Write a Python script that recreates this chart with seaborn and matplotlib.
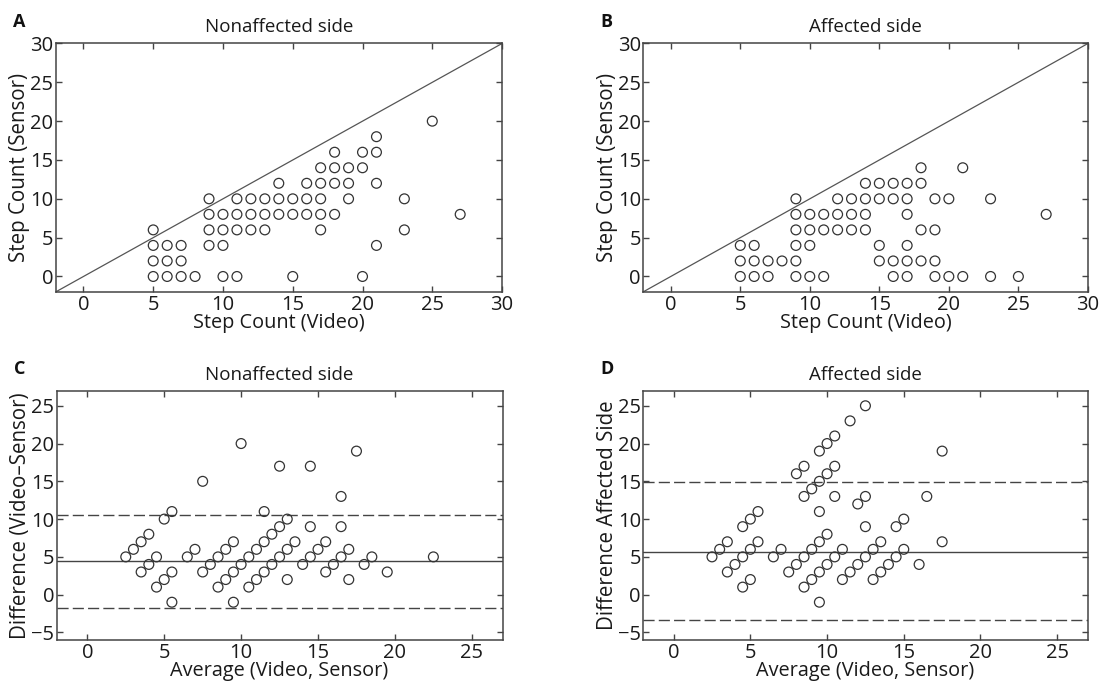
import numpy as np
import pandas as pd
import matplotlib
matplotlib.use("Agg")
import matplotlib.pyplot as plt
import seaborn as sns

# ==============================
# Data
# ==============================
# Panel A - nonaffected side (video count, sensor count)
a_video = [5, 6, 7, 8, 10, 11, 15, 20,
           5, 6, 7,
           5, 6, 7, 9, 10, 21,
           5, 9, 10, 11, 12, 13, 17, 23,
           9, 10, 11, 12, 13, 14, 15, 16, 17, 18, 27,
           9, 11, 12, 13, 14, 15, 16, 17, 19, 23,
           14, 16, 17, 18, 19, 21,
           17, 18, 19, 20,
           18, 20, 21,
           21,
           25]
a_sensor = [0] * 8 + [2] * 3 + [4] * 6 + [6] * 8 + [8] * 11 + [10] * 10 + \
           [12] * 6 + [14] * 4 + [16] * 3 + [18] + [20]

# Panel B - affected side
b_video = [5, 6, 7, 9, 10, 11, 16, 17, 19, 20, 21, 23, 25,
           5, 6, 7, 8, 9, 15, 16, 17, 18, 19,
           5, 6, 9, 10, 15, 17,
           9, 10, 11, 12, 13, 14, 18, 19,
           9, 10, 11, 12, 13, 14, 17, 27,
           9, 12, 13, 14, 15, 16, 17, 19, 20, 23,
           14, 15, 16, 17, 18,
           18, 21]
b_sensor = [0] * 13 + [2] * 10 + [4] * 6 + [6] * 8 + [8] * 8 + [10] * 10 + \
           [12] * 5 + [14] * 2

# Panel C - Bland-Altman, nonaffected side
c_avg = [2.5, 3, 3.5, 4, 3.5, 4, 4.5, 4.5, 5, 5, 5.5, 5.5, 5.5,
         6.5, 7, 7.5, 7.5, 8, 8.5, 8.5, 9, 9, 9.5, 9.5, 9.5,
         10, 10, 10.5, 10.5, 11, 11, 11.5, 11.5, 11.5, 12, 12,
         12.5, 12.5, 12.5, 13, 13, 13, 13.5, 14, 14.5, 14.5, 14.5,
         15, 15.5, 15.5, 16, 16.5, 16.5, 16.5, 17, 17, 17.5, 18, 18.5,
         19.5, 22.5]
c_diff = [5, 6, 7, 8, 3, 4, 5, 1, 2, 10, 11, 3, -1,
          5, 6, 15, 3, 4, 1, 5, 6, 2, 7, 3, -1,
          20, 4, 5, 1, 6, 2, 11, 7, 3, 8, 4,
          9, 17, 5, 10, 6, 2, 7, 4, 17, 9, 5,
          6, 7, 3, 4, 13, 9, 5, 6, 2, 19, 4, 5,
          3, 5]
c_mean, c_upper, c_lower = 4.4, 10.5, -1.8

# Panel D - Bland-Altman, affected side
d_avg = [2.5, 3, 3.5, 4.5, 5, 5.5, 8, 8.5, 9.5, 10, 10.5, 11.5, 12.5,
         3.5, 4, 4.5, 5, 5.5, 8.5, 9, 9.5, 10, 10.5,
         4.5, 5, 6.5, 7, 9.5, 10.5,
         7.5, 8, 8.5, 9, 9.5, 10, 12, 12.5,
         8.5, 9, 9.5, 10, 10.5, 11, 12.5, 17.5,
         9.5, 11, 11.5, 12, 12.5, 13, 13.5, 14.5, 15, 16.5,
         13, 13.5, 14, 14.5, 15,
         16, 17.5]
d_diff = [5, 6, 7, 9, 10, 11, 16, 17, 19, 20, 21, 23, 25,
          3, 4, 5, 6, 7, 13, 14, 15, 16, 17,
          1, 2, 5, 6, 11, 13,
          3, 4, 5, 6, 7, 8, 12, 13,
          1, 2, 3, 4, 5, 6, 9, 19,
          -1, 2, 3, 4, 5, 6, 7, 9, 10, 13,
          2, 3, 4, 5, 6,
          4, 7]
d_mean, d_upper, d_lower = 5.7, 14.9, -3.4

# ==============================
# Style
# ==============================
sns.set_style("ticks")
plt.rcParams['font.family'] = ['Open Sans', 'DejaVu Sans']
plt.rcParams['axes.edgecolor'] = '#444444'
plt.rcParams['axes.linewidth'] = 1.1
plt.rcParams['xtick.direction'] = 'in'
plt.rcParams['ytick.direction'] = 'in'
plt.rcParams['xtick.color'] = '#444444'
plt.rcParams['ytick.color'] = '#444444'
plt.rcParams['xtick.labelcolor'] = '#1a1a1a'
plt.rcParams['ytick.labelcolor'] = '#1a1a1a'

ink = '#333333'
fig = plt.figure(figsize=(11, 6.85), dpi=100)

ax_a = fig.add_axes([0.0505, 0.5737, 0.4059, 0.3628])
ax_b = fig.add_axes([0.5845, 0.5737, 0.4045, 0.3628])
ax_c = fig.add_axes([0.0514, 0.0657, 0.4055, 0.3640])
ax_d = fig.add_axes([0.5845, 0.0657, 0.4045, 0.3640])

marker_kw = dict(marker='o', s=50, facecolor='none', edgecolor=ink,
                 linewidth=0.9, legend=False, zorder=3)


def finish(ax, letter, title, xlabel, ylabel):
    ax.set_title(title, fontsize=13.5, color='#1a1a1a', pad=8)
    ax.set_xlabel(xlabel, fontsize=14.3, color='#1a1a1a', labelpad=-1)
    ax.set_ylabel(ylabel, fontsize=14.8, color='#1a1a1a', labelpad=0)
    ax.tick_params(labelsize=14.5, length=4, width=1, pad=2,
                   top=True, right=True)
    ax.tick_params(axis='y', pad=1.5)
    for sp in ax.spines.values():
        sp.set_visible(True)
    ax.text(-0.095, 1.066, letter, transform=ax.transAxes, fontsize=13,
            fontweight='bold', ha='left', va='baseline', color='#111111')


# A and B: sensor vs video with identity line
for ax, xv, yv, letter, title in [(ax_a, a_video, a_sensor, 'A', 'Nonaffected side'),
                                  (ax_b, b_video, b_sensor, 'B', 'Affected side')]:
    df = pd.DataFrame({'video': xv, 'sensor': yv})
    ax.axline((0, 0), slope=1, color='#555555', lw=0.9, zorder=2)
    sns.scatterplot(data=df, x='video', y='sensor', ax=ax, **marker_kw)
    ax.set_xlim(-2, 30)
    ax.set_ylim(-2, 30)
    ax.set_xticks(range(0, 31, 5))
    ax.set_yticks(range(0, 31, 5))
    finish(ax, letter, title, 'Step Count (Video)', 'Step Count (Sensor)')

# C and D: Bland-Altman plots
for ax, xv, yv, m, up, lo, letter, title, ylab in [
        (ax_c, c_avg, c_diff, c_mean, c_upper, c_lower, 'C', 'Nonaffected side',
         'Difference (Video\u2013Sensor)'),
        (ax_d, d_avg, d_diff, d_mean, d_upper, d_lower, 'D', 'Affected side',
         'Difference Affected Side')]:
    df = pd.DataFrame({'avg': xv, 'diff': yv})
    ax.axhline(m, color='#444444', lw=1.0, zorder=2)
    ax.axhline(up, color='#444444', lw=1.0, ls=(0, (8, 3)), zorder=2)
    ax.axhline(lo, color='#444444', lw=1.0, ls=(0, (8, 3)), zorder=2)
    sns.scatterplot(data=df, x='avg', y='diff', ax=ax, **marker_kw)
    ax.set_xlim(-2, 27)
    ax.set_ylim(-6, 27)
    ax.set_xticks(range(0, 26, 5))
    ax.set_yticks(range(-5, 26, 5))
    finish(ax, letter, title, 'Average (Video, Sensor)', ylab)

fig.savefig('out.png', dpi=100)
